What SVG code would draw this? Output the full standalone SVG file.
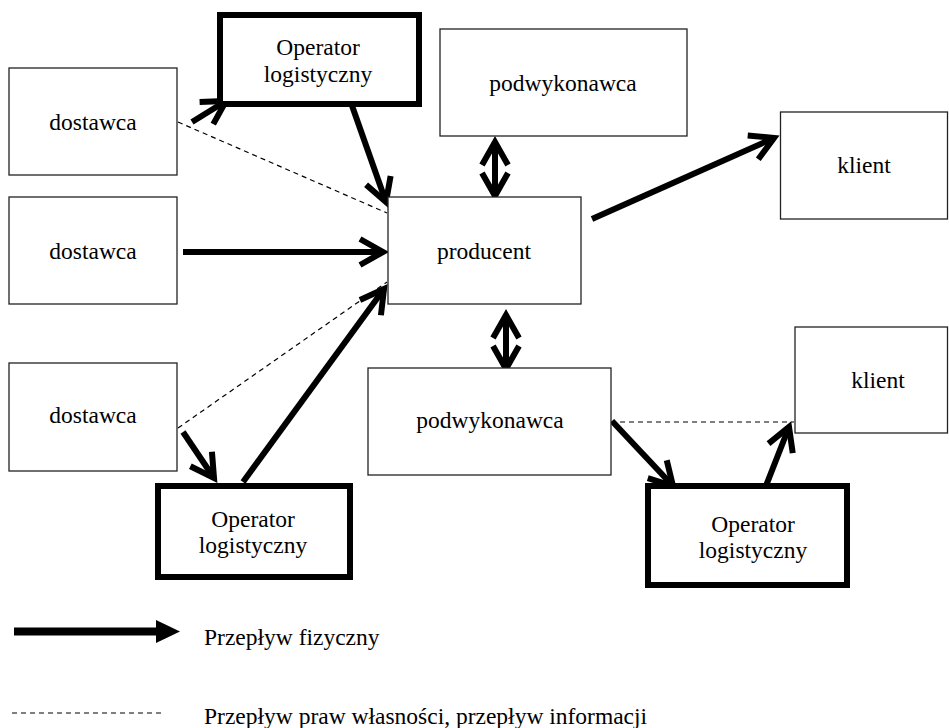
<svg xmlns="http://www.w3.org/2000/svg" width="949" height="728" viewBox="0 0 949 728">
<style>
.box{fill:#fff;stroke:#222;stroke-width:1.3}
.op{fill:#fff;stroke:#000;stroke-width:6}
text{font-family:'Liberation Serif','DejaVu Serif',serif;font-size:23.5px;fill:#000}
.t{text-anchor:middle}
.fl{stroke:#000;stroke-width:6;fill:none;marker-end:url(#ch)}
.dbl{stroke:#000;stroke-width:6;fill:none;marker-end:url(#ch);marker-start:url(#ch)}
.ds{stroke:#000;stroke-width:1.2;stroke-dasharray:5 4;fill:none}
</style>
<defs>
<marker id="ch" markerUnits="userSpaceOnUse" viewBox="-30 -20 40 40" markerWidth="40" markerHeight="40" refX="0" refY="0" orient="auto-start-reverse" overflow="visible">
<path d="M-23,-13 L0,0 L-23,13" fill="none" stroke="#000" stroke-width="6" stroke-linejoin="miter"/>
</marker>
</defs>
<rect width="949" height="728" fill="#fff"/>
<g id="connectors">
<line class="ds" x1="178" y1="122" x2="387" y2="213"/>
<line class="ds" x1="178" y1="428" x2="387" y2="282"/>
<line class="ds" x1="611" y1="422" x2="794" y2="422"/>
<line class="fl" x1="192" y1="122" x2="226" y2="101"/>
<line class="fl" x1="350" y1="100" x2="386" y2="202"/>
<line class="fl" x1="183" y1="252" x2="383" y2="252"/>
<line class="fl" x1="183" y1="432" x2="214" y2="478"/>
<line class="fl" x1="243" y1="482" x2="384" y2="289"/>
<line class="fl" x1="592" y1="219" x2="774" y2="138"/>
<line class="dbl" x1="495" y1="142" x2="495" y2="196"/>
<line class="dbl" x1="506" y1="315" x2="506" y2="369"/>
<line class="fl" x1="612" y1="421" x2="673" y2="486"/>
<line class="fl" x1="764" y1="491" x2="789" y2="427"/>
</g>
<g id="dostawca1"><rect class="box" x="9" y="68" width="168" height="107"/><text class="t" x="93" y="130">dostawca</text></g>
<g id="dostawca2"><rect class="box" x="9" y="197" width="168" height="107"/><text class="t" x="93" y="259">dostawca</text></g>
<g id="dostawca3"><rect class="box" x="9" y="363" width="168" height="108"/><text class="t" x="93" y="423">dostawca</text></g>
<g id="operator1"><rect class="op" x="220" y="15" width="199" height="89"/><text class="t" x="318" y="55">Operator</text><text class="t" x="318" y="82">logistyczny</text></g>
<g id="podwykonawca1"><rect class="box" x="440" y="29" width="247" height="107"/><text class="t" x="563" y="91">podwykonawca</text></g>
<g id="producent"><rect class="box" x="388" y="197" width="193" height="107"/><text class="t" x="484" y="259">producent</text></g>
<g id="klient1"><rect class="box" x="780.5" y="112" width="167" height="107"/><text class="t" x="864" y="173">klient</text></g>
<g id="podwykonawca2"><rect class="box" x="368" y="368" width="243" height="107"/><text class="t" x="490" y="428">podwykonawca</text></g>
<g id="klient2"><rect class="box" x="795" y="327" width="152.5" height="106"/><text class="t" x="878" y="388">klient</text></g>
<g id="operator2"><rect class="op" x="158" y="486" width="192" height="91"/><text class="t" x="253" y="527">Operator</text><text class="t" x="253" y="553">logistyczny</text></g>
<g id="operator3"><rect class="op" x="648" y="486" width="199" height="99"/><text class="t" x="753" y="532">Operator</text><text class="t" x="753" y="558">logistyczny</text></g>
<g id="legend">
<line x1="14" y1="631.5" x2="158" y2="631.5" stroke="#000" stroke-width="8"/>
<polygon points="156,620 180,631.5 156,643" fill="#000"/>
<text x="204" y="645">Przepływ fizyczny</text>
<line class="ds" x1="12" y1="713" x2="162" y2="713"/>
<text x="204" y="724">Przepływ praw własności, przepływ informacji</text>
</g>
</svg>
